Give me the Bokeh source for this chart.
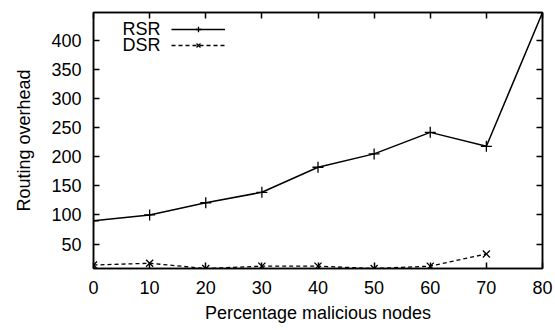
from bokeh.plotting import figure
from bokeh.models import Range1d, FixedTicker, LinearAxis, Legend, LegendItem, Label
from bokeh.embed import file_html
from bokeh.resources import INLINE

pct = [0, 10, 20, 30, 40, 50, 60, 70, 80]
rsr = [90, 100, 121, 139, 182, 205, 242, 218, 448]
dsr_x = [0, 10, 20, 30, 40, 50, 60, 70]
dsr = [14, 17, 8, 12, 12, 8, 12, 33]
x_ticks = [0, 10, 20, 30, 40, 50, 60, 70, 80]
y_ticks = [50, 100, 150, 200, 250, 300, 350, 400]
series_names = ["RSR", "DSR"]

FONT = "Liberation Sans"
FS = "18px"

p = figure(width=555, height=330, output_backend="svg", toolbar_location=None,
           x_range=Range1d(min(pct), max(pct)),
           y_range=Range1d(min(dsr), max(rsr)),
           min_border_left=93, min_border_right=13, min_border_top=12, min_border_bottom=62)
p.grid.visible = False
p.outline_line_color = "black"
p.outline_line_width = 1.5
p.background_fill_color = "white"
p.border_fill_color = "white"

def style(ax, ticks, labels=True):
    ax.ticker = FixedTicker(ticks=ticks)
    ax.axis_line_color = "black"
    ax.axis_line_width = 1.5
    ax.major_tick_in = 6
    ax.major_tick_out = 0
    ax.major_tick_line_color = "black"
    ax.major_tick_line_width = 1.5
    ax.minor_tick_line_color = None
    ax.major_label_text_font = FONT
    ax.major_label_text_font_size = FS
    ax.major_label_text_color = "black"
    ax.axis_label_text_font = FONT
    ax.axis_label_text_font_size = FS
    ax.axis_label_text_font_style = "normal"
    ax.axis_label_text_color = "black"
    if not labels:
        ax.major_label_overrides = {t: "" for t in ticks}
        ax.major_label_standoff = 0

style(p.xaxis[0], x_ticks)
style(p.yaxis[0], y_ticks)
p.xaxis.axis_label = "Percentage malicious nodes"
p.yaxis.axis_label = "Routing overhead"
p.xaxis.major_label_standoff = 12
p.yaxis.major_label_standoff = 12
p.xaxis.axis_label_standoff = 6
p.yaxis.axis_label_standoff = 14

top = LinearAxis()
style(top, x_ticks, labels=False)
p.add_layout(top, "above")
right = LinearAxis()
style(right, y_ticks, labels=False)
p.add_layout(right, "right")

r1l = p.line(pct, rsr, line_color="black", line_width=1.5)
r1m = p.scatter(pct, rsr, marker="cross", size=11, line_color="black", line_width=1.3)
r2l = p.line(dsr_x, dsr, line_color="black", line_width=1.3, line_dash="4 3")
r2m = p.scatter(dsr_x, dsr, marker="x", size=10, line_color="black", line_width=1.3)

leg = Legend(items=[LegendItem(label=" ", renderers=[r1l, r1m]),
                    LegendItem(label=" ", renderers=[r2l, r2m])],
             location=(78, 216), glyph_width=54, glyph_height=14, spacing=2,
             label_text_font_size="1px", padding=0, margin=0,
             border_line_color=None, background_fill_alpha=0)
p.add_layout(leg, "center")

for txt, yy in zip(series_names, [240, 224]):
    p.add_layout(Label(x=67, y=yy, x_units="screen", y_units="screen", text=txt,
                       text_font=FONT, text_font_size=FS, text_align="right",
                       text_baseline="middle", text_color="black"))

open("out.html", "w").write(file_html(p, INLINE))
